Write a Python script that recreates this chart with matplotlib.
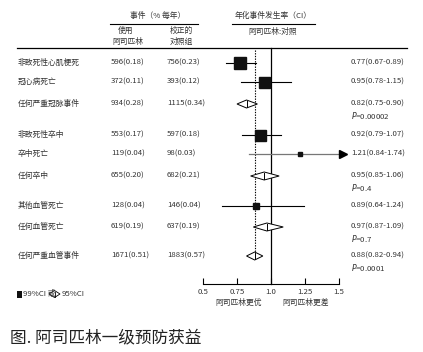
import matplotlib
matplotlib.use("Agg")
import matplotlib.pyplot as plt
import matplotlib.transforms as mtransforms
from matplotlib.patches import Polygon, Rectangle
from matplotlib.lines import Line2D

plt.rcParams['font.family'] = ['Noto Sans CJK SC', 'DejaVu Sans']
plt.rcParams['mathtext.fontset'] = 'dejavusans'

# ---------------- data ----------------
labels = ["非致死性心肌梗死", "冠心病死亡", "任何严重冠脉事件",
          "非致死性卒中", "卒中死亡", "任何卒中",
          "其他血管死亡", "任何血管死亡", "任何严重血管事件"]
aspirin_events = ["596(0.18)", "372(0.11)", "934(0.28)", "553(0.17)", "119(0.04)",
                  "655(0.20)", "128(0.04)", "619(0.19)", "1671(0.51)"]
control_events = ["756(0.23)", "393(0.12)", "1115(0.34)", "597(0.18)", "98(0.03)",
                  "682(0.21)", "146(0.04)", "637(0.19)", "1883(0.57)"]
rr = [0.77, 0.95, 0.82, 0.92, 1.21, 0.95, 0.89, 0.97, 0.88]
ci_lo = [0.67, 0.78, 0.75, 0.79, 0.84, 0.85, 0.64, 0.87, 0.82]
ci_hi = [0.89, 1.15, 0.90, 1.07, 1.74, 1.06, 1.24, 1.09, 0.94]
is_summary = [False, False, True, False, False, True, False, True, True]
p_values = [None, None, "0.00002", None, None, "0.4", None, "0.7", "0.0001"]
xticks = [0.5, 0.75, 1.0, 1.25, 1.5]
xtick_labels = ["0.5", "0.75", "1.0", "1.25", "1.5"]

# ---------------- layout / style ----------------
W, H = 423, 352
row_y = [63, 82, 104, 135, 154, 176, 206, 227, 256]   # pixels from top
box_px = [12, 11, 0, 11, 5, 6, 6, 0, 0]
TXT = '#333333'
FS = 5.6

fig = plt.figure(figsize=(W / 100, H / 100), dpi=100)
ax = fig.add_axes([203 / W, (H - 284) / H, 136 / W, (284 - 48) / H])
ax.set_xlim(0.5, 1.5)
ax.set_ylim(284, 48)
for s in ['top', 'right', 'left']:
    ax.spines[s].set_visible(False)
ax.spines['bottom'].set_linewidth(0.8)
ax.set_yticks([])
ax.set_xticks(xticks)
ax.set_xticklabels(xtick_labels, fontsize=FS, color=TXT)
ax.tick_params(axis='x', direction='in', length=4, width=0.8, pad=3)
ax.patch.set_alpha(0)

# reference lines
ax.plot([1.0, 1.0], [48, 284], color='black', lw=0.9, clip_on=False)
ax.plot([rr[-1], rr[-1]], [50, 258], color='black', lw=0.8, ls=(0, (1.2, 1.2)), clip_on=False)

px2pt = 72 / 100
for i in range(len(labels)):
    y = row_y[i]
    if is_summary[i]:
        h = 4
        poly = Polygon([[ci_lo[i], y], [rr[i], y - h], [ci_hi[i], y], [rr[i], y + h]],
                       closed=True, facecolor='white', edgecolor='black', lw=0.7, zorder=3)
        ax.add_patch(poly)
        ax.plot([rr[i], rr[i]], [y - h + 1, y + h - 1], color='black', lw=0.7, zorder=4)
    else:
        if ci_hi[i] > 1.5:
            # truncated CI: gray line ending with a black arrowhead beyond the axis
            ax.plot([ci_lo[i], 1.515], [y, y], color='#777777', lw=0.9, zorder=2, clip_on=False)
            ax.plot([1.53], [y], marker='>', ms=6 * px2pt * 1.4, color='black', mec='black',
                    zorder=3, clip_on=False)
        else:
            ax.plot([ci_lo[i], ci_hi[i]], [y, y], color='black', lw=0.8, zorder=2, clip_on=False)
        ax.plot([rr[i]], [y], marker='s', ms=box_px[i] * px2pt, color='#111111',
                mec='#111111', zorder=3, clip_on=False)

# ---------------- texts ----------------
tr = mtransforms.blended_transform_factory(fig.transFigure, ax.transData)
for i in range(len(labels)):
    y = row_y[i]
    ax.text(18 / W, y, labels[i], transform=tr, fontsize=FS, color=TXT, va='center', ha='left')
    ax.text(111 / W, y, aspirin_events[i], transform=tr, fontsize=FS, color=TXT, va='center', ha='left')
    ax.text(167 / W, y, control_events[i], transform=tr, fontsize=FS, color=TXT, va='center', ha='left')
    ax.text(351 / W, y, f"{rr[i]:.2f}({ci_lo[i]:.2f}-{ci_hi[i]:.2f})",
            transform=tr, fontsize=FS, color=TXT, va='center', ha='left')
    if p_values[i]:
        ax.text(351 / W, y + 11, f"$P$={p_values[i]}", transform=tr, fontsize=FS,
                color=TXT, va='center', ha='left')

def fx(px):
    return px / W

def fy(py):
    return 1 - py / H

# headers
fig.text(fx(158), fy(16), "事件（% 每年）", fontsize=FS, color=TXT, ha='center', va='center')
fig.add_artist(Line2D([fx(110), fx(198)], [fy(24), fy(24)], color='black', lw=0.8))
fig.text(fx(126), fy(31), "使用", fontsize=FS, color=TXT, ha='center', va='center')
fig.text(fx(128), fy(42), "阿司匹林", fontsize=FS, color=TXT, ha='center', va='center')
fig.text(fx(181), fy(31), "校正的", fontsize=FS, color=TXT, ha='center', va='center')
fig.text(fx(181), fy(42), "对照组", fontsize=FS, color=TXT, ha='center', va='center')
fig.text(fx(273), fy(16), "年化事件发生率（CI）", fontsize=FS, color=TXT, ha='center', va='center')
fig.add_artist(Line2D([fx(232), fx(315)], [fy(24), fy(24)], color='black', lw=0.8))
fig.text(fx(273), fy(32), "阿司匹林:对照", fontsize=FS, color=TXT, ha='center', va='center')
fig.add_artist(Line2D([fx(17), fx(407)], [fy(48), fy(48)], color='black', lw=0.9))

# axis captions
fig.text(fx(239), fy(303), "阿司匹林更优", fontsize=FS, color=TXT, ha='center', va='center')
fig.text(fx(306), fy(303), "阿司匹林更差", fontsize=FS, color=TXT, ha='center', va='center')

# legend
fig.add_artist(Rectangle((fx(17), fy(298)), 5 / W, 7 / H, transform=fig.transFigure,
                         facecolor='#111111', edgecolor='none'))
fig.text(fx(23), fy(294), "99%CI 或", fontsize=FS, color=TXT, ha='left', va='center')
dx0, dx1, dy = 49, 60, 294
fig.add_artist(Polygon([[fx(dx0), fy(dy)], [fx((dx0 + dx1) / 2), fy(dy - 3.5)],
                        [fx(dx1), fy(dy)], [fx((dx0 + dx1) / 2), fy(dy + 3.5)]],
                       closed=True, transform=fig.transFigure, facecolor='white',
                       edgecolor='black', lw=0.6))
fig.add_artist(Line2D([fx(54.5), fx(54.5)], [fy(dy - 2.5), fy(dy + 2.5)], color='black', lw=0.6))
fig.text(fx(62), fy(294), "95%CI", fontsize=FS, color=TXT, ha='left', va='center')

# caption
fig.text(fx(10), fy(338), "图. 阿司匹林一级预防获益", fontsize=12, color='#222222',
         ha='left', va='center')

fig.savefig("out.png", dpi=100, facecolor='white')
